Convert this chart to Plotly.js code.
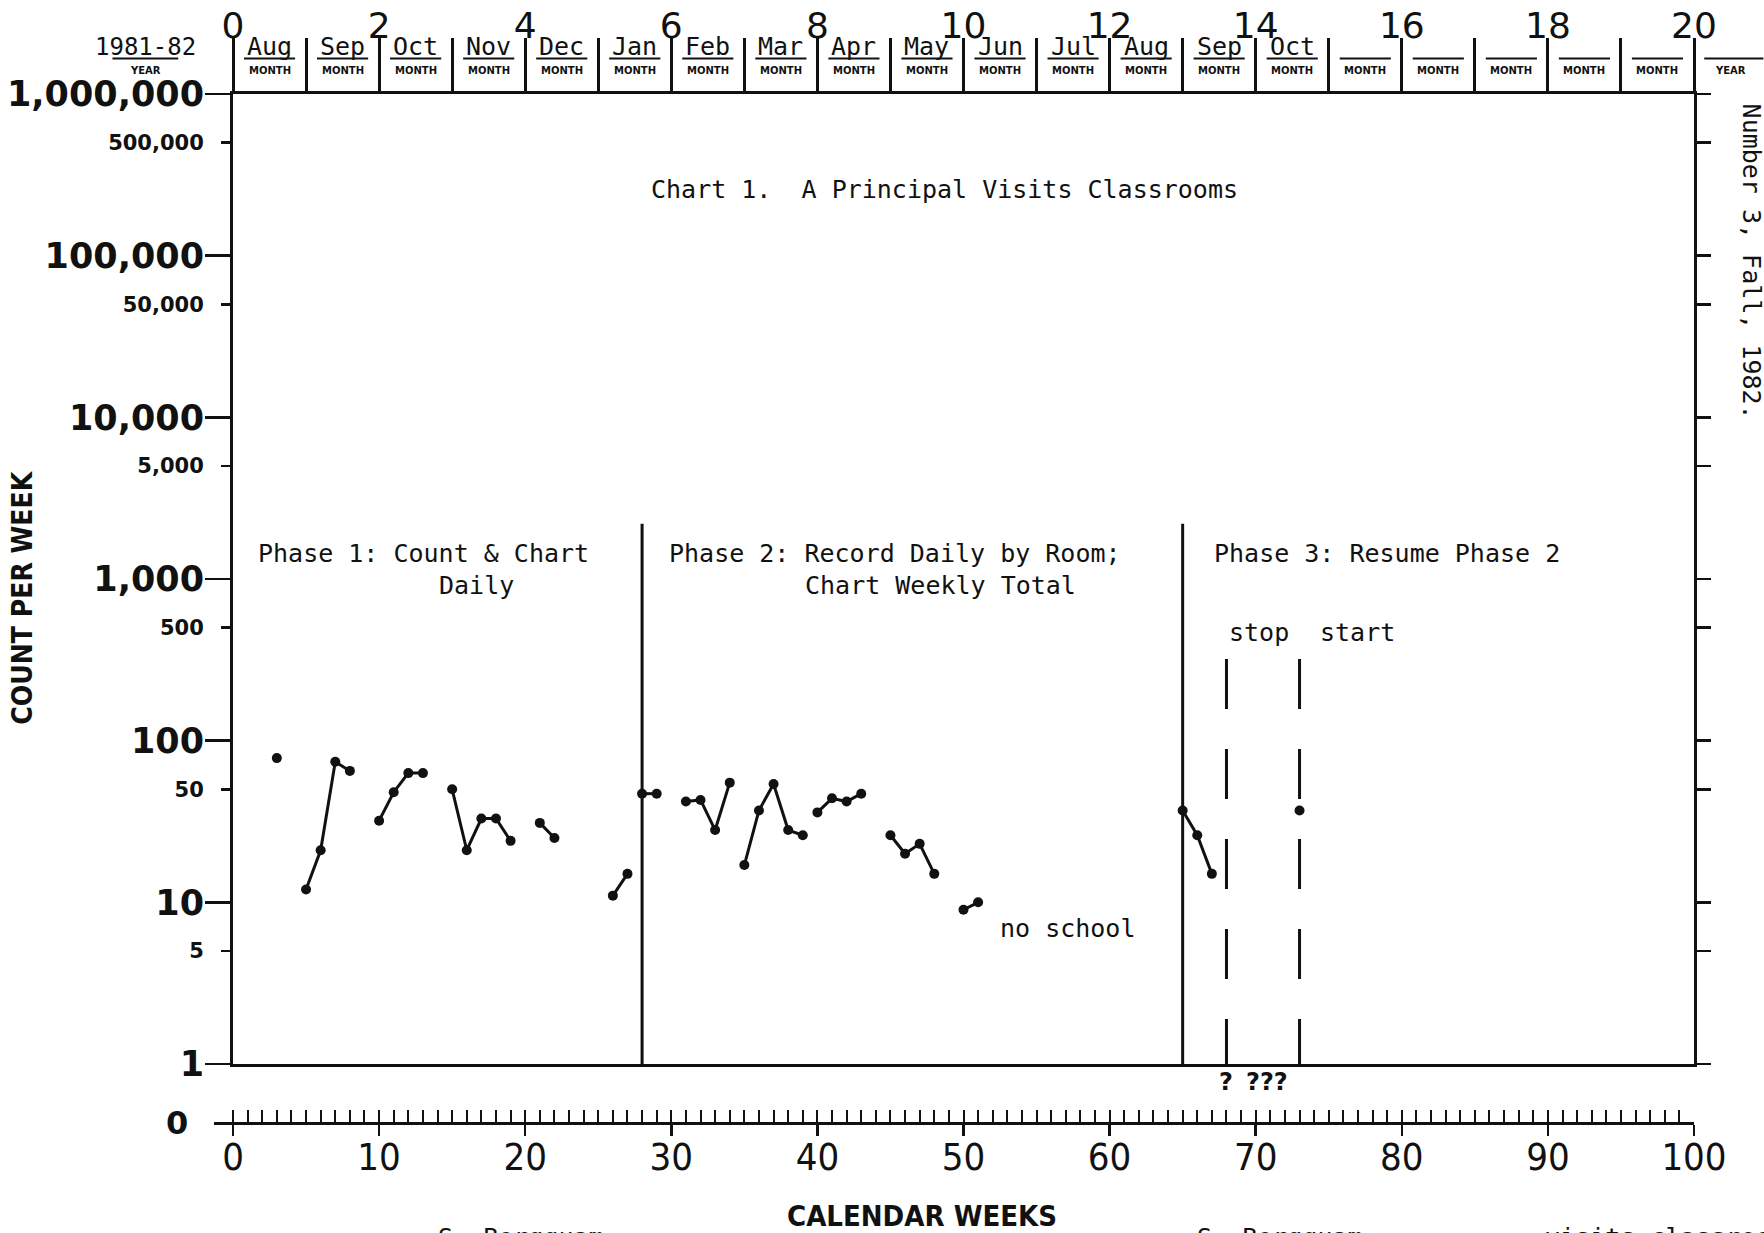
<!DOCTYPE html>
<html>
<head>
<meta charset="utf-8">
<script src="https://cdn.plot.ly/plotly-3.0.1.min.js"></script>
<style>
  html, body { margin: 0; padding: 0; background: #fff; }
  #chart { width: 1764px; height: 1233px; }
</style>
</head>
<body>
<div id="chart"></div>
<script>
// ---------------- DATA ----------------
// Calendar week of each weekly count (null = break in the line)
const weeks = [3, null,
  5, 6, 7, 8, null,
  10, 11, 12, 13, null,
  15, 16, 17, 18, 19, null,
  21, 22, null,
  26, 27, null,
  28, 29, null,
  31, 32, 33, 34, null,
  35, 36, 37, 38, 39, null,
  40, 41, 42, 43, null,
  45, 46, 47, 48, null,
  50, 51, null,
  65, 66, 67, null,
  73];
// Classroom visits counted per week
const counts = [78, null,
  12, 21, 74, 65, null,
  32, 48, 63, 63, null,
  50, 21, 33, 33, 24, null,
  31, 25, null,
  11, 15, null,
  47, 47, null,
  42, 43, 28, 55, null,
  17, 37, 54, 28, 26, null,
  36, 44, 42, 47, null,
  26, 20, 23, 15, null,
  9, 10, null,
  37, 26, 15, null,
  37];

const phaseChangeWeeks = [28, 65];      // solid phase-change lines
const phaseLineTop = 2200;
const conditionChangeWeeks = [68, 73];  // dashed stop / start lines
const conditionLineTop = 320;

const schoolYear = "1981-82";
const monthNames = ["Aug","Sep","Oct","Nov","Dec","Jan","Feb","Mar","Apr","May",
                    "Jun","Jul","Aug","Sep","Oct","","","","",""];
const topTickVals = [0, 2, 4, 6, 8, 10, 12, 14, 16, 18, 20];
const topTickLabels = ["0","2","4","6","8","10","12","14","16","18","20"];

const decadeVals = [1, 10, 100, 1000, 10000, 100000, 1000000];
const decadeLabels = ["1","10","100","1,000","10,000","100,000","1,000,000"];
const halfVals = [5, 50, 500, 5000, 50000, 500000];
const halfLabels = ["5","50","500","5,000","50,000","500,000"];

const weekTickVals = [0, 10, 20, 30, 40, 50, 60, 70, 80, 90, 100];
const weekTickLabels = ["0","10","20","30","40","50","60","70","80","90","100"];

// ---------------- LAYOUT HELPERS ----------------
const INK = '#111';
const MONO = "'DejaVu Sans Mono', 'Liberation Mono', monospace";
const SANS = "'DejaVu Sans', 'Liberation Sans', sans-serif";
const NARROW = "'Liberation Sans Narrow', 'DejaVu Sans Condensed', 'Arial Narrow', 'DejaVu Sans', sans-serif";

const plotW = 1480;            // width of the whole plotting strip
const dom0 = 19 / plotW;       // main axes start a little right of the zero axis start
const yDom0 = 59 / 1029;       // log axis sits above the "0" axis
function monthToPaper(m) { return dom0 + (m / 20) * (1 - dom0); }

const nMonths = monthNames.length;
const monthBoundaries = [];
for (let i = 1; i < nMonths; i++) monthBoundaries.push(i);
const weekMinor = [];
for (let w = 0; w <= 100; w++) weekMinor.push(w);

// ---------------- TRACES ----------------
const phaseX = [], phaseY = [];
phaseChangeWeeks.forEach(w => { phaseX.push(w, w, null); phaseY.push(1, phaseLineTop, null); });
const condX = [], condY = [];
conditionChangeWeeks.forEach(w => { condX.push(w, w, null); condY.push(conditionLineTop, 1, null); });

function axisHolder(xa, ya) {
  return { x: [null], y: [null], xaxis: xa, yaxis: ya, mode: 'markers',
    hoverinfo: 'skip', showlegend: false, marker: { opacity: 0 } };
}

const traces = [
  axisHolder('x2', 'y'),
  axisHolder('x3', 'y'),
  axisHolder('x4', 'y'),
  axisHolder('x', 'y2'),
  axisHolder('x', 'y3'),
  { x: phaseX, y: phaseY, mode: 'lines', line: { color: INK, width: 3 },
    hoverinfo: 'skip', xaxis: 'x', yaxis: 'y' },
  { x: condX, y: condY, mode: 'lines', line: { color: INK, width: 3, dash: '50px,40px' },
    hoverinfo: 'skip', xaxis: 'x', yaxis: 'y' },
  { x: weeks, y: counts, mode: 'lines+markers', connectgaps: false,
    line: { color: INK, width: 3 }, marker: { color: INK, size: 10 },
    xaxis: 'x', yaxis: 'y' }
];

// ---------------- ANNOTATIONS & SHAPES ----------------
const annotations = [];
const shapes = [];
const monoFont = { family: MONO, size: 25, color: INK };

function addText(text, x, y, xanchor, extra) {
  annotations.push(Object.assign({ text: text, x: x, y: y, xref: 'x', yref: 'paper',
    xanchor: xanchor, yanchor: 'middle', showarrow: false, font: monoFont }, extra || {}));
}
addText("Phase 1: Count &amp; Chart", 1.6, 0.5539, 'left');
addText("Daily", 16.7, 0.5228, 'center');
addText("Phase 2: Record Daily by Room;", 29.7, 0.5539, 'left');
addText("Chart Weekly Total", 39.0, 0.5228, 'left');
addText("Phase 3: Resume Phase 2", 67.0, 0.5539, 'left');
addText("stop", 70.2, 0.4762, 'center');
addText("start", 77.0, 0.4762, 'center');
addText("no school", 57.1, 0.1895, 'center');
addText("?", 68, 0.0398, 'center', { font: { family: SANS, size: 24, weight: 'bold', color: INK } });
addText("???", 70.8, 0.0398, 'center', { font: { family: SANS, size: 24, weight: 'bold', color: INK } });

// month header cells
for (let i = 0; i < nMonths; i++) {
  if (monthNames[i]) {
    annotations.push({ text: monthNames[i], x: monthToPaper(i + 0.5), y: 1.0457, xref: 'paper', yref: 'paper',
      xanchor: 'center', yanchor: 'middle', showarrow: false, font: { family: MONO, size: 25, color: INK } });
  }
  annotations.push({ text: "MONTH", x: monthToPaper(i + 0.5), y: 1.0228, xref: 'paper', yref: 'paper',
    xanchor: 'center', yanchor: 'middle', showarrow: false,
    font: { family: SANS, size: 10, weight: 'bold', color: INK } });
  shapes.push({ type: 'line', xref: 'paper', yref: 'paper', x0: monthToPaper(i + 0.15), x1: monthToPaper(i + 0.85),
    y0: 1.0345, y1: 1.0345, line: { color: INK, width: 2 } });
}
// year cells
annotations.push({ text: schoolYear, x: monthToPaper(-1.2), y: 1.0457, xref: 'paper', yref: 'paper',
  xanchor: 'center', yanchor: 'middle', showarrow: false, font: { family: MONO, size: 24, color: INK } });
annotations.push({ text: "YEAR", x: monthToPaper(-1.2), y: 1.0228, xref: 'paper', yref: 'paper',
  xanchor: 'center', yanchor: 'middle', showarrow: false, font: { family: SANS, size: 10, weight: 'bold', color: INK } });
shapes.push({ type: 'line', xref: 'paper', yref: 'paper', x0: monthToPaper(-1.65), x1: monthToPaper(-0.75),
  y0: 1.0345, y1: 1.0345, line: { color: INK, width: 2 } });
annotations.push({ text: "YEAR", x: monthToPaper(20.5), y: 1.0228, xref: 'paper', yref: 'paper',
  xanchor: 'center', yanchor: 'middle', showarrow: false, font: { family: SANS, size: 10, weight: 'bold', color: INK } });
shapes.push({ type: 'line', xref: 'paper', yref: 'paper', x0: monthToPaper(20.14), x1: monthToPaper(20.95),
  y0: 1.0345, y1: 1.0345, line: { color: INK, width: 2 } });

// axis titles and the "0" level
annotations.push({ text: "COUNT PER WEEK", x: -0.1294, y: 0.5110, xref: 'paper', yref: 'paper',
  xanchor: 'center', yanchor: 'middle', textangle: -90, showarrow: false,
  font: { family: NARROW, size: 28, weight: 'bold', color: INK } });
annotations.push({ text: "CALENDAR WEEKS", x: 0.4784, y: -0.0900, xref: 'paper', yref: 'paper',
  xanchor: 'center', yanchor: 'middle', showarrow: false,
  font: { family: NARROW, size: 29, weight: 'bold', color: INK } });
annotations.push({ text: "0", x: -0.0165, y: 0, xref: 'paper', yref: 'paper',
  xanchor: 'right', yanchor: 'middle', showarrow: false,
  font: { family: SANS, size: 32, weight: 'bold', color: INK } });

// page text cut by the scan edges
annotations.push({ text: "Number 3, Fall, 1982.", x: 1.0395, y: 0.8367, xref: 'paper', yref: 'paper',
  xanchor: 'center', yanchor: 'middle', textangle: 90, showarrow: false, font: monoFont });
annotations.push({ text: "S. Bergquam", x: 0.150, y: -0.1115, xref: 'paper', yref: 'paper',
  xanchor: 'left', yanchor: 'middle', showarrow: false, font: monoFont });
annotations.push({ text: "S. Bergquam", x: 0.6628, y: -0.1115, xref: 'paper', yref: 'paper',
  xanchor: 'left', yanchor: 'middle', showarrow: false, font: monoFont });
annotations.push({ text: "visits classrooms", x: 0.898, y: -0.1115, xref: 'paper', yref: 'paper',
  xanchor: 'left', yanchor: 'middle', showarrow: false, font: monoFont });

// ---------------- LAYOUT ----------------
const layout = {
  width: 1764, height: 1233,
  margin: { l: 214, r: 70, t: 94, b: 110, pad: 0 },
  paper_bgcolor: '#fff', plot_bgcolor: 'rgba(0,0,0,0)',
  showlegend: false,
  font: { family: MONO, color: INK },
  title: { text: "Chart 1.  A Principal Visits Classrooms", xref: 'paper', yref: 'paper',
    x: 0.4936, y: 0.9077, xanchor: 'center', yanchor: 'middle', font: { family: MONO, size: 25, color: INK } },
  xaxis: { domain: [dom0, 1], range: [0, 100], anchor: 'y', showline: true, linewidth: 3, linecolor: INK,
    ticks: '', showticklabels: false, showgrid: false, zeroline: false, fixedrange: true },
  xaxis2: { overlaying: 'x', side: 'top', anchor: 'y', range: [0, 20],
    tickmode: 'array', tickvals: topTickVals, ticktext: topTickLabels,
    ticks: 'outside', ticklen: 53, tickwidth: 3, tickcolor: INK,
    minor: { tickmode: 'array', tickvals: monthBoundaries, ticks: 'outside', ticklen: 53, tickwidth: 3, tickcolor: INK },
    showline: true, linewidth: 3, linecolor: INK, showgrid: false, zeroline: false,
    ticklabelstandoff: -14,
    tickfont: { family: SANS, size: 36, color: INK } },
  xaxis3: { domain: [0, 1], anchor: 'free', position: 0, range: [-19 / 14.61, 100],
    tickmode: 'array', tickvals: weekTickVals, ticktext: weekTickLabels,
    ticks: 'outside', ticklen: 11, tickwidth: 2.5, tickcolor: INK,
    showline: true, linewidth: 3, linecolor: INK, showgrid: false, zeroline: false,
    tickfont: { family: NARROW, size: 38, color: INK }, ticklabelstandoff: -12 },
  xaxis4: { overlaying: 'x3', anchor: 'free', position: 0, range: [-19 / 14.61, 100],
    tickmode: 'array', tickvals: weekMinor, ticks: 'inside', ticklen: 13, tickwidth: 2, tickcolor: INK,
    showticklabels: false, showline: false, showgrid: false, zeroline: false },
  yaxis: { type: 'log', range: [0, 6], domain: [yDom0, 1], anchor: 'x',
    tickmode: 'array', tickvals: decadeVals, ticktext: decadeLabels,
    ticks: 'outside', ticklen: 25, tickwidth: 2.5, tickcolor: INK,
    showline: true, linewidth: 3, linecolor: INK, showgrid: false, zeroline: false,
    ticklabelstandoff: -6,
    tickfont: { family: SANS, size: 35, weight: 'bold', color: INK } },
  yaxis2: { overlaying: 'y', type: 'log', range: [0, 6], anchor: 'x', side: 'left',
    tickmode: 'array', tickvals: halfVals, ticktext: halfLabels,
    ticks: 'outside', ticklen: 11, tickwidth: 2.5, tickcolor: INK,
    showline: false, showgrid: false, zeroline: false, ticklabelstandoff: 13,
    tickfont: { family: SANS, size: 21, weight: 'bold', color: INK } },
  yaxis3: { overlaying: 'y', type: 'log', range: [0, 6], anchor: 'x', side: 'right',
    tickmode: 'array', tickvals: decadeVals.concat(halfVals),
    ticks: 'outside', ticklen: 14, tickwidth: 2.5, tickcolor: INK, showticklabels: false,
    showline: true, linewidth: 3, linecolor: INK, showgrid: false, zeroline: false },
  annotations: annotations,
  shapes: shapes
};

Plotly.newPlot('chart', traces, layout, { staticPlot: true, displayModeBar: false });
</script>
</body>
</html>
